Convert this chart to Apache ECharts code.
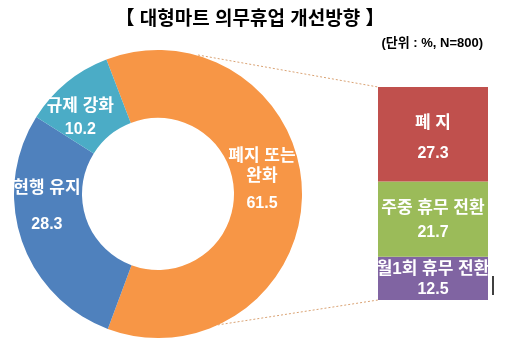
<!DOCTYPE html>
<html><head><meta charset="utf-8">
<script src="https://cdn.jsdelivr.net/npm/echarts@6/dist/echarts.min.js"></script>
<style>html,body{margin:0;padding:0;background:#fff}#c{width:512px;height:347px}</style>
</head><body><div id="c"></div>
<script>
// Survey answers (%, N=800)
const donutNames = ['폐지 또는\n완화', '현행 유지', '규제 강화'];
const donutValues = [61.5, 28.3, 10.2];
// Breakdown of "폐지 또는 완화", listed bottom to top of the stacked bar
const barNames = ['월1회 휴무 전환', '주중 휴무 전환', '폐 지'];
const barValues = [12.5, 21.7, 27.3];
const titleText = '【 대형마트 의무휴업 개선방향 】';
const unitText = '(단위 : %, N=800)';

const FONT = '"Liberation Sans", "Noto Sans CJK KR", sans-serif';
const donutColors = ['#F79646', '#4F81BD', '#4BACC6'];
const barColors = ['#8064A2', '#9BBB59', '#C0504D'];
// per-slice value line height and label nudge
const donutValueLH = [34, 52, 26];
const donutNudge = [[-9, -10], [-4, -16], [-6, 13]];
const barValueLH = [20, 28, 40];
const barNudge = [1, 3, 9];

const cx = 158, cy = 194, rIn = 76, rOut = 144;
const barLeft = 378, barTop = 87, barW = 110, barH = 213;

const chart = echarts.init(document.getElementById('c'));

const nameStyle = { color: '#fff', fontFamily: FONT, fontWeight: 'bold', fontSize: 17, lineHeight: 20 };
const valueStyle = { color: '#fff', fontFamily: FONT, fontWeight: 'bold', fontSize: 16 };

const pieData = donutNames.map((n, i) => ({
  name: n,
  value: donutValues[i],
  itemStyle: { color: donutColors[i] },
  label: { rich: { v: { lineHeight: donutValueLH[i] } } }
}));

const barSeries = barNames.map((n, i) => ({
  type: 'bar',
  name: n,
  stack: 'total',
  barWidth: '100%',
  silent: true,
  itemStyle: { color: barColors[i] },
  data: [barValues[i]],
  label: {
    show: true,
    position: 'inside',
    offset: [0, barNudge[i]],
    formatter: p => '{n|' + p.seriesName + '}\n{v|' + p.value + '}',
    rich: {
      n: nameStyle,
      v: Object.assign({}, valueStyle, { lineHeight: barValueLH[i] })
    }
  }
}));

const total = barValues.reduce((a, b) => a + b, 0);

chart.setOption({
  animation: false,
  grid: { left: barLeft, top: barTop, width: barW, height: barH },
  xAxis: { type: 'category', data: ['b'], show: false },
  yAxis: { type: 'value', min: 0, max: total, show: false },
  series: [
    {
      type: 'pie',
      center: [cx, cy],
      radius: [rIn, rOut],
      startAngle: 111,
      clockwise: true,
      silent: true,
      avoidLabelOverlap: false,
      labelLine: { show: false },
      label: {
        show: true,
        position: 'inside',
        formatter: p => p.name.split('\n').map(s => '{n|' + s + '}').join('\n') + '\n{v|' + p.value + '}',
        rich: { n: nameStyle, v: valueStyle }
      },
      labelLayout: p => ({ dx: donutNudge[p.dataIndex][0], dy: donutNudge[p.dataIndex][1] }),
      data: pieData
    },
    ...barSeries
  ],
  graphic: [
    { type: 'text', x: 250, y: 20, style: { text: titleText, fill: '#000', font: 'bold 19px ' + FONT, textAlign: 'center', textVerticalAlign: 'middle' } },
    { type: 'text', x: 483, y: 43, style: { text: unitText, fill: '#000', font: 'bold 13px ' + FONT, textAlign: 'right', textVerticalAlign: 'middle' } },
    { type: 'line', shape: { x1: 198, y1: 55, x2: barLeft, y2: barTop }, style: { stroke: '#d9a273', lineWidth: 1, lineDash: [2, 2] } },
    { type: 'line', shape: { x1: 198, y1: 328, x2: barLeft, y2: barTop + barH }, style: { stroke: '#d9a273', lineWidth: 1, lineDash: [2, 2] } },
    { type: 'line', shape: { x1: 493, y1: 276, x2: 493, y2: 295 }, style: { stroke: '#000', lineWidth: 1.5 } }
  ]
});
</script></body></html>
